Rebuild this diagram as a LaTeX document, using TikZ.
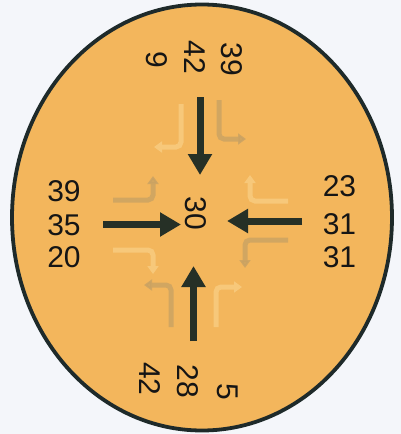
\documentclass[tikz,border=0pt]{standalone}
\usepackage{fontspec}
\setmainfont{Liberation Sans}
\usetikzlibrary{arrows.meta}
\definecolor{bgc}{HTML}{F4F6FA}
\definecolor{fillc}{HTML}{F3B65C}
\definecolor{edgec}{HTML}{1E2A2A}
\definecolor{arrc}{HTML}{263026}
\definecolor{txtc}{HTML}{151515}
\definecolor{leftc}{HTML}{C9A263}
\definecolor{rightc}{HTML}{F7C87A}
\tikzset{
  num/.style={text=txtc, inner sep=0pt, font=\fontsize{30}{30}\selectfont},
  numv/.style={num, rotate=-90},
  mainarrow/.style={draw=arrc, line width=7pt, -{Triangle[width=23pt,length=21pt]}},
  leftturn/.style={draw=leftc, opacity=0.8, line width=5pt, rounded corners=5pt, -{Triangle[width=11pt,length=8pt]}},
  rightturn/.style={draw=rightc, line width=5pt, rounded corners=5pt, -{Triangle[width=11pt,length=8pt]}}
}
\begin{document}
\begin{tikzpicture}[x=1pt,y=-1pt]
\fill[bgc] (0,0) rectangle (401,434);
\useasboundingbox (0,0) rectangle (401,434);
\draw[edgec, line width=3.8pt, fill=fillc] (202,217.5) ellipse [x radius=190, y radius=213];

% turn arrows
\draw[leftturn] (219,100) -- (219,139) -- (246,139);
\draw[rightturn] (181,104) -- (181,147) -- (154,147);
\draw[leftturn] (113,200) -- (153,200) -- (153,176);
\draw[rightturn] (113,250) -- (153,250) -- (153,274);
\draw[leftturn] (288,240) -- (245,240) -- (245,268);
\draw[rightturn] (288,201) -- (250,201) -- (250,175);
\draw[leftturn] (171,327) -- (171,285) -- (144,285);
\draw[rightturn] (216,327) -- (216,287) -- (242,287);

% main arrows
\coordinate (ns) at (200,97);
\coordinate (ne) at (200,175);
\coordinate (ws) at (103,224.5);
\coordinate (we) at (181,224.5);
\coordinate (es) at (302,221);
\coordinate (ee) at (227,221);
\coordinate (ss) at (193.5,341);
\coordinate (se) at (193.5,266);
\draw[mainarrow] (ns) -- (ne);
\draw[mainarrow] (ws) -- (we);
\draw[mainarrow] (es) -- (ee);
\draw[mainarrow] (ss) -- (se);

% labels
\node[numv] (t1) at (232,59.5) {39};
\node[numv] (t2) at (194.5,57.5) {42};
\node[numv] (t3) at (157,60) {9};
\node[numv] (b1) at (150,379) {42};
\node[numv] (b2) at (187.5,381.5) {28};
\node[numv] (b3) at (227.5,391.5) {5};
\node[numv] (c) at (196,213.5) {30};
\node[num] (l1) at (64,191.5) {39};
\node[num] (l2) at (64,225) {35};
\node[num] (l3) at (64,257.5) {20};
\node[num] (r1) at (339.5,186) {23};
\node[num] (r2) at (339.5,224) {31};
\node[num] (r3) at (339.5,257.5) {31};
\end{tikzpicture}
\end{document}
